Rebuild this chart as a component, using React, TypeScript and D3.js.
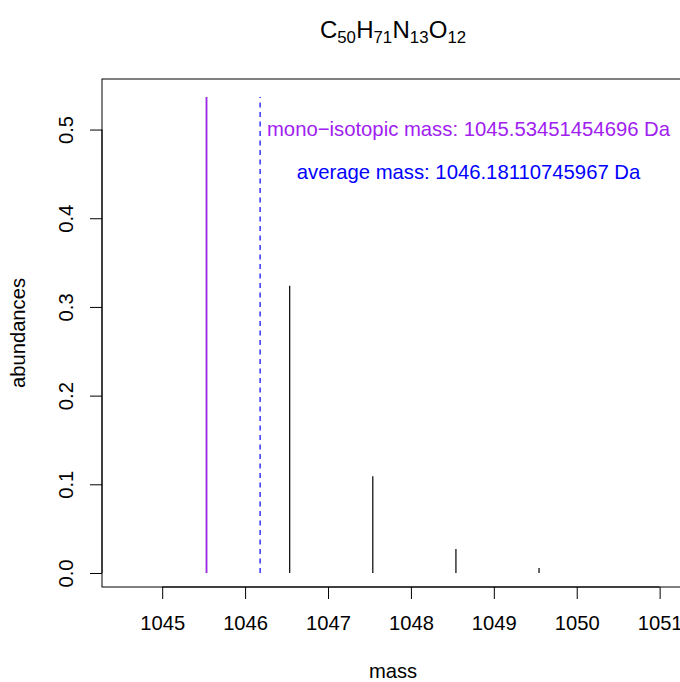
import React, { useEffect, useRef } from 'react'
import * as d3 from 'd3'

// isotope pattern for C50H71N13O12
const peakMasses = [1045.5345, 1046.5379, 1047.5405, 1048.5431, 1049.5456]
const peakAbundances = [0.5366, 0.3239, 0.109, 0.027, 0.0056]
const monoMass = 1045.53451454696
const avgMass = 1046.18110745967
const xTicks = [1045, 1046, 1047, 1048, 1049, 1050, 1051]
const yTicks = [0, 0.1, 0.2, 0.3, 0.4, 0.5]
const formula = [
  ['C', '50'],
  ['H', '71'],
  ['N', '13'],
  ['O', '12'],
]

const W = 680
const H = 682
const FONT = '"Liberation Sans", Arial, Helvetica, sans-serif'

export default function App() {
  const axisBottomRef = useRef<SVGGElement>(null)
  const axisLeftRef = useRef<SVGGElement>(null)

  const plot = { left: 102, right: 684, top: 79, bottom: 587 }
  const x = d3.scaleLinear().domain([1044.274, 1051.294]).range([plot.left, plot.right])
  const y = d3.scaleLinear().domain([-0.0158, 0.557]).range([plot.bottom, plot.top])
  const maxAb = d3.max(peakAbundances) || 0

  useEffect(() => {
    if (axisBottomRef.current) {
      const g = d3.select(axisBottomRef.current)
      g.selectAll('*').remove()
      g.call(d3.axisBottom(x).tickValues(xTicks).tickFormat(d3.format('d')).tickSize(12).tickPadding(17))
      g.select('.domain').attr('d', `M${x(xTicks[0])},0H${x(xTicks[xTicks.length - 1])}`)
      g.selectAll('text').attr('font-size', 20.2).attr('font-family', FONT).attr('fill', '#000')
      g.selectAll('line, path').attr('stroke', '#000').attr('stroke-width', 1)
    }
    if (axisLeftRef.current) {
      const g = d3.select(axisLeftRef.current)
      g.selectAll('*').remove()
      g.call(d3.axisLeft(y).tickValues(yTicks).tickFormat(d3.format('.1f')).tickSize(12))
      g.select('.domain').attr('d', `M0,${y(yTicks[0])}V${y(yTicks[yTicks.length - 1])}`)
      g.selectAll('line, path').attr('stroke', '#000').attr('stroke-width', 1)
      // R draws y labels parallel to the axis; the tick group already sits at y(d)
      g.selectAll<SVGTextElement, number>('text')
        .attr('font-size', 20.2)
        .attr('font-family', FONT)
        .attr('fill', '#000')
        .attr('x', null)
        .attr('y', null)
        .attr('dy', null)
        .attr('text-anchor', 'middle')
        .attr('transform', 'translate(-29, 0) rotate(-90)')
    }
  }, [])

  const cx = (plot.left + plot.right) / 2

  return (
    <svg width={W} height={H} style={{ position: 'absolute', left: 0, top: 0, background: '#fff' }}>
      <rect x={0} y={0} width={W} height={H} fill='#fff' />
      <text x={cx} y={38} textAnchor='middle' fontFamily={FONT} fontSize={24}>
        {formula.map(([el, n]) => (
          <React.Fragment key={el}>
            <tspan dy={0}>{el}</tspan>
            <tspan fontSize={16.8} dy={5}>
              {n}
            </tspan>
            <tspan fontSize={1} dy={-5}>
              {' '}
            </tspan>
          </React.Fragment>
        ))}
      </text>

      <rect
        x={plot.left}
        y={plot.top}
        width={plot.right - plot.left}
        height={plot.bottom - plot.top}
        fill='none'
        stroke='#000'
        strokeWidth={1}
      />
      <g ref={axisBottomRef} transform={`translate(0, ${plot.bottom})`} />
      <g ref={axisLeftRef} transform={`translate(${plot.left}, 0)`} />

      {peakMasses.map((m, i) => (
        <line
          key={`peak-${i}`}
          x1={x(m)}
          x2={x(m)}
          y1={y(0)}
          y2={y(peakAbundances[i])}
          stroke='#000'
          strokeWidth={1.2}
        />
      ))}
      <line x1={x(monoMass)} x2={x(monoMass)} y1={y(0)} y2={y(maxAb)} stroke='#A020F0' strokeWidth={1.6} />
      <line
        x1={x(avgMass)}
        x2={x(avgMass)}
        y1={y(0)}
        y2={y(maxAb)}
        stroke='#0000FF'
        strokeWidth={1.2}
        strokeDasharray='5,4.5'
      />

      <text x={468.5} y={136} textAnchor='middle' fontFamily={FONT} fontSize={20.3} fill='#A020F0'>
        {`mono\u2212isotopic mass: ${monoMass} Da`}
      </text>
      <text x={468.5} y={179} textAnchor='middle' fontFamily={FONT} fontSize={20.3} fill='#0000FF'>
        {`average mass: ${avgMass} Da`}
      </text>

      <text x={cx} y={678} textAnchor='middle' fontFamily={FONT} fontSize={20.2}>
        mass
      </text>
      <text
        transform={`translate(25, ${(plot.top + plot.bottom) / 2}) rotate(-90)`}
        textAnchor='middle'
        fontFamily={FONT}
        fontSize={20.2}
      >
        abundances
      </text>
    </svg>
  )
}
